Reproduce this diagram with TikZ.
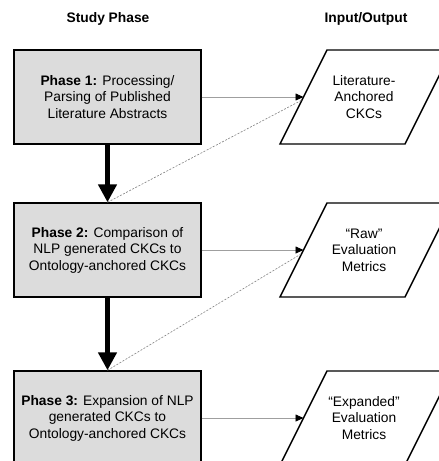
\documentclass[tikz,border=0pt]{standalone}
\usepackage{fontspec}
\setmainfont{Liberation Sans}
\usetikzlibrary{arrows.meta}
\definecolor{boxgray}{HTML}{DCDCDC}
\tikzset{
  phasebox/.style={draw=black, line width=1.4pt, fill=boxgray, minimum width=187pt, minimum height=94pt, inner sep=0pt, align=center, font=\fontsize{13.8}{16.5}\selectfont},
  iotext/.style={inner sep=0pt, align=center, font=\fontsize{13.8}{16.5}\selectfont},
  iopara/.style={draw=black, line width=1.4pt, fill=white},
  header/.style={font=\fontsize{13.8}{16.5}\selectfont\bfseries},
  bigarrow/.style={line width=5.5pt, -{Triangle[length=18pt,width=18pt]}},
  thinarrow/.style={draw=gray!75, line width=0.8pt, -{Triangle[length=8pt,width=7pt,color=black]}},
  dashline/.style={draw=gray, line width=0.6pt, dash pattern=on 2pt off 1.5pt}
}
\begin{document}
\begin{tikzpicture}[x=1pt,y=-1pt]
\useasboundingbox (0,0) rectangle (439,461);
\clip (0,0) rectangle (439,461);
\fill[white] (0,0) rectangle (439,461);

\node[header] (h1) at (108,19) {Study Phase};
\node[header] (h2) at (366,19) {Input/Output};

\node[phasebox] (b1) at (107.5,97) {\textbf{Phase 1:} Processing/\\Parsing of Published\\Literature Abstracts};
\node[phasebox] (b2) at (107.5,250) {\textbf{Phase 2:} Comparison of\\NLP generated CKCs to\\Ontology-anchored CKCs};
\node[phasebox] (b3) at (107.5,418) {\textbf{Phase 3:} Expansion of NLP\\generated CKCs to\\Ontology-anchored CKCs};

% parallelograms
\draw[iopara] (280,144) -- (327,50) -- (452,50) -- (405,144) -- cycle;
\draw[iopara] (280,297) -- (327,203) -- (452,203) -- (405,297) -- cycle;
\draw[iopara] (280,465) -- (327,371) -- (452,371) -- (405,465) -- cycle;

\node[iotext] (p1) at (364,97) {Literature-\\Anchored\\CKCs};
\node[iotext] (p2) at (364,250) {``Raw''\\Evaluation\\Metrics};
\node[iotext] (p3) at (364,418) {``Expanded''\\Evaluation\\Metrics};

\coordinate (t1) at (303.5,97);
\coordinate (t2) at (303.5,250);
\coordinate (t3) at (303.5,418);
\coordinate (d1) at (302,100);
\coordinate (d2) at (301,254);

\draw[thinarrow] (b1.east) -- (t1);
\draw[thinarrow] (b2.east) -- (t2);
\draw[thinarrow] (b3.east) -- (t3);

\draw[bigarrow] (b1.south) -- (b2.north);
\draw[bigarrow] (b2.south) -- (b3.north);

\draw[dashline] (b2.north) -- (d1);
\draw[dashline] (b3.north) -- (d2);
\end{tikzpicture}
\end{document}
